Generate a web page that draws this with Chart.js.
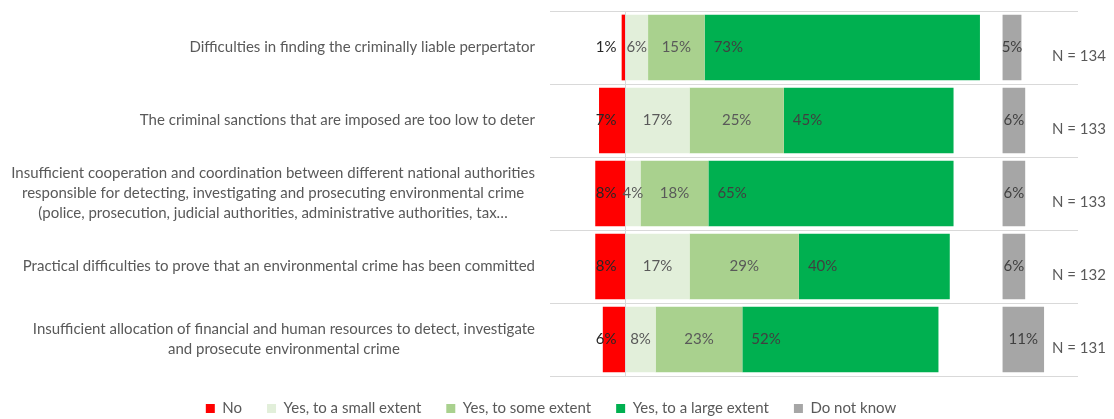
<!DOCTYPE html>
<html>
<head>
<meta charset="utf-8">
<script src="https://cdn.jsdelivr.net/npm/chart.js@4"></script>
<style>
  html, body { margin: 0; padding: 0; background: #fff; }
  canvas { display: block; }
</style>
</head>
<body>
<canvas id="chart" width="1114" height="419"></canvas>
<script>
const categories = [
  ['Difficulties in finding the criminally liable perpertator'],
  ['The criminal sanctions that are imposed are too low to deter'],
  ['Insufficient cooperation and coordination between different national authorities',
   'responsible for detecting, investigating and prosecuting environmental crime',
   '(police, prosecution, judicial authorities, administrative authorities, tax\u2026'],
  ['Practical difficulties to prove that an environmental crime has been committed'],
  ['Insufficient allocation of financial and human resources to detect, investigate',
   'and prosecute environmental crime']
];
const no = [1, 7, 8, 8, 6];
const yesSmall = [6, 17, 4, 17, 8];
const yesSome = [15, 25, 18, 29, 23];
const yesLarge = [73, 45, 65, 40, 52];
const dontKnow = [5, 6, 6, 6, 11];
const respondents = [134, 133, 133, 132, 131];

const FONT = 'Lato';
Chart.defaults.font.family = FONT;

// gap so that "Do not know" starts at 100 on the axis
const spacer = yesSmall.map((v, i) => 100 - v - yesSome[i] - yesLarge[i]);

const labelPlugin = {
  id: 'labels',
  afterDatasetsDraw(chart) {
    const ctx = chart.ctx;
    const area = chart.chartArea;
    ctx.save();

    // zero line sits on top of the bars
    const x0 = Math.round(chart.scales.x.getPixelForValue(0)) + 0.5;
    ctx.strokeStyle = '#D9D9D9';
    ctx.lineWidth = 1;
    ctx.beginPath();
    ctx.moveTo(x0, area.top);
    ctx.lineTo(x0, area.bottom);
    ctx.stroke();

    ctx.font = '15px ' + FONT;
    ctx.textBaseline = 'middle';
    chart.data.datasets.forEach((ds, di) => {
      if (!ds.labelAlign) return;
      const meta = chart.getDatasetMeta(di);
      meta.data.forEach((bar, i) => {
        const { x, y, base } = bar.getProps(['x', 'y', 'base'], true);
        const txt = Math.abs(ds.data[i]) + '%';
        ctx.fillStyle = ds.labelColor || '#595959';
        if (ds.labelAlign === 'end') {
          ctx.textAlign = 'right';
          ctx.fillText(txt, base - 9, y);
        } else if (ds.labelAlign === 'start') {
          ctx.textAlign = 'left';
          ctx.fillText(txt, base + 9, y);
        } else {
          ctx.textAlign = 'center';
          ctx.fillText(txt, (x + base) / 2, y);
        }
      });
    });

    // category labels: block right-aligned, lines centred inside it
    const yScale = chart.scales.y;
    ctx.fillStyle = '#595959';
    ctx.textAlign = 'center';
    const lh = 20;
    categories.forEach((lines, i) => {
      const cy = yScale.getPixelForValue(i);
      const w = Math.max(...lines.map(l => ctx.measureText(l).width));
      const cx = area.left - 15 - w / 2;
      lines.forEach((l, k) => {
        ctx.fillText(l, cx, cy + (k - (lines.length - 1) / 2) * lh);
      });
    });

    // respondent counts
    ctx.textAlign = 'left';
    respondents.forEach((n, i) => {
      const cy = yScale.getPixelForValue(i);
      ctx.fillText('N = ' + n, 1052, cy + 9);
    });
    ctx.restore();
  }
};

new Chart(document.getElementById('chart'), {
  type: 'bar',
  data: {
    labels: categories.map(c => c.join(' ')),
    datasets: [
      { label: 'No', data: no.map(v => -v), backgroundColor: '#FF0000', labelAlign: 'end', labelColor: '#262626' },
      { label: 'Yes, to a small extent', data: yesSmall, backgroundColor: '#E2EFDA', labelAlign: 'center' },
      { label: 'Yes, to some extent', data: yesSome, backgroundColor: '#A9D18E', labelAlign: 'center' },
      { label: 'Yes, to a large extent', data: yesLarge, backgroundColor: '#00B050', labelAlign: 'start', labelColor: '#404040' },
      { label: '', data: spacer, backgroundColor: 'rgba(0,0,0,0)' },
      { label: 'Do not know', data: dontKnow, backgroundColor: '#A6A6A6', labelAlign: 'center', labelColor: '#404040' }
    ]
  },
  options: {
    indexAxis: 'y',
    responsive: false,
    animation: false,
    devicePixelRatio: 1,
    barPercentage: 0.9,
    categoryPercentage: 1,
    layout: { padding: { left: 24, right: 36, top: 11, bottom: -7 } },
    scales: {
      x: {
        stacked: true,
        min: -20,
        max: 120,
        border: { display: false },
        ticks: { display: false, stepSize: 20 },
        grid: { display: false },
        afterFit: s => { s.height = 0; }
      },
      y: {
        stacked: true,
        border: { display: false },
        ticks: { display: false },
        grid: { drawTicks: false, color: '#D9D9D9' },
        afterFit: s => { s.width = 526; }
      }
    },
    plugins: {
      tooltip: { enabled: false },
      legend: {
        position: 'bottom',
        labels: {
          boxWidth: 9,
          boxHeight: 9,
          padding: 25,
          color: '#595959',
          font: { size: 15 },
          filter: item => item.text !== ''
        }
      }
    }
  },
  plugins: [labelPlugin]
});
</script>
</body>
</html>
